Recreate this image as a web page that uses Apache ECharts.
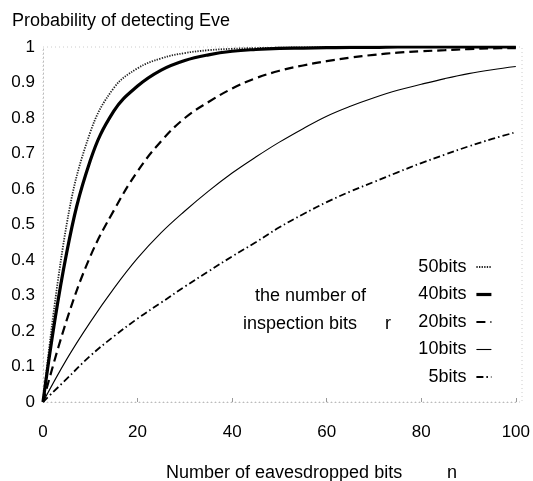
<!DOCTYPE html>
<html>
<head>
<meta charset="utf-8">
<script src="https://cdn.jsdelivr.net/npm/echarts@6/dist/echarts.min.js"></script>
<style>
html,body{margin:0;padding:0;background:#fff;}
#chart{width:533px;height:481px;}
</style>
</head>
<body>
<div id="chart"></div>
<script>
// Number of eavesdropped bits n
const nValues = [0, 5, 10, 15, 20, 25, 30, 35, 40, 45, 50, 55, 60, 65, 70, 75, 80, 85, 90, 95, 100];
// Probability of detecting Eve for each number of inspection bits r
const p50 = [0, 0.50, 0.76, 0.885, 0.94, 0.968, 0.983, 0.991, 0.995, 0.997, 0.998, 0.999, 0.999, 1, 1, 1, 1, 1, 1, 1, 1];
const p40 = [0, 0.42, 0.68, 0.82, 0.89, 0.935, 0.962, 0.978, 0.988, 0.993, 0.996, 0.997, 0.998, 0.999, 0.999, 1, 1, 1, 1, 1, 1];
const p20 = [0, 0.23, 0.41, 0.54, 0.65, 0.735, 0.80, 0.845, 0.883, 0.912, 0.933, 0.948, 0.96, 0.970, 0.978, 0.984, 0.988, 0.991, 0.994, 0.996, 0.997];
const p10 = [0, 0.12, 0.225, 0.32, 0.405, 0.477, 0.538, 0.594, 0.645, 0.69, 0.732, 0.77, 0.805, 0.833, 0.857, 0.878, 0.895, 0.911, 0.925, 0.936, 0.945];
const p5  = [0, 0.065, 0.13, 0.185, 0.235, 0.28, 0.325, 0.368, 0.41, 0.45, 0.492, 0.529, 0.563, 0.593, 0.62, 0.647, 0.673, 0.697, 0.72, 0.741, 0.76];
const seriesNames = ['50bits', '40bits', '20bits', '10bits', '5bits'];
const xTicks = [0, 20, 40, 60, 80, 100];
const yTicks = [0, 0.1, 0.2, 0.3, 0.4, 0.5, 0.6, 0.7, 0.8, 0.9, 1];

const FONT = '"Liberation Sans", Arial, Helvetica, sans-serif';
const pair = arr => nValues.map((n, i) => [n, arr[i]]);

const styles = [
  {width: 1.8, type: [1.3, 1.3], color: '#222'},
  {width: 3.2, type: 'solid', color: '#000'},
  {width: 2.2, type: [9, 5], color: '#000'},
  {width: 1.1, type: 'solid', color: '#000'},
  {width: 1.8, type: [7, 3, 1.5, 3], color: '#000'}
];
const dataSets = [p50, p40, p20, p10, p5];

const chart = echarts.init(document.getElementById('chart'), null, {renderer: 'canvas'});
chart.setOption({
  animation: false,
  backgroundColor: '#fff',
  grid: {left: 43, right: 11, top: 47, bottom: 79, show: false},
  xAxis: {
    type: 'value', min: 0, max: 100, interval: 20,
    axisLine: {show: true, lineStyle: {color: '#bbb', type: [1, 3], width: 1}},
    axisTick: {show: true, inside: true, length: 4, lineStyle: {color: '#999'}},
    splitLine: {show: false},
    axisLabel: {color: '#000', fontSize: 17, fontFamily: FONT, margin: 22,
      formatter: v => xTicks.includes(v) ? String(v) : ''}
  },
  yAxis: {
    type: 'value', min: 0, max: 1, interval: 0.1,
    axisLine: {show: true, lineStyle: {color: '#bbb', type: [1, 3], width: 1}},
    axisTick: {show: false},
    splitLine: {show: false},
    axisLabel: {color: '#000', fontSize: 17, fontFamily: FONT, margin: 8,
      formatter: v => {
        const t = yTicks.find(y => Math.abs(y - v) < 1e-6);
        return t === undefined ? '' : (t === 0 || t === 1 ? String(t) : t.toFixed(1));
      }}
  },
  legend: {
    orient: 'vertical', right: 40, top: 258, align: 'right', padding: 0,
    itemWidth: 15, itemHeight: 14, itemGap: 9.5,
    itemStyle: {opacity: 0},
    lineStyle: {width: 'inherit'},
    formatter: name => name + ' ',
    textStyle: {color: '#000', fontSize: 18, fontFamily: FONT},
    data: seriesNames
  },
  series: seriesNames.map((name, i) => ({
    name, type: 'line', data: pair(dataSets[i]), smooth: 0.4,
    symbol: 'none', lineStyle: styles[i], itemStyle: {color: styles[i].color}
  })),
  graphic: [
    {type: 'text', left: 12, top: 12, style: {text: 'Probability of detecting Eve', fill: '#000', font: '18px ' + FONT}},
    {type: 'text', left: 255, top: 287, style: {text: 'the number of', fill: '#000', font: '18px ' + FONT}},
    {type: 'text', left: 243, top: 315, style: {text: 'inspection bits', fill: '#000', font: '18px ' + FONT}},
    {type: 'text', left: 385, top: 315, style: {text: 'r', fill: '#000', font: '18px ' + FONT}},
    {type: 'text', left: 166, top: 464, style: {text: 'Number of eavesdropped bits', fill: '#000', font: '18px ' + FONT}},
    {type: 'text', left: 447, top: 464, style: {text: 'n', fill: '#000', font: '18px ' + FONT}},
    {type: 'rect', shape: {x: 43, y: 47, width: 479, height: 355}, style: {fill: 'none', stroke: '#ccc', lineWidth: 1, lineDash: [1, 3]}, silent: true, z: -1}
  ]
});
</script>
</body>
</html>
